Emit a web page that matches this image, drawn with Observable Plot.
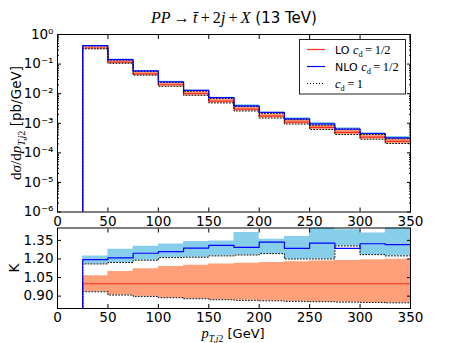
<!DOCTYPE html>
<html><head><meta charset="utf-8">
<script src="https://cdn.jsdelivr.net/npm/d3@7"></script>
<script src="https://cdn.jsdelivr.net/npm/@observablehq/plot@0.6"></script>
<style>
body{margin:0;background:#fff;}
#chart{position:relative;width:457px;height:343px;overflow:hidden;font-family:"DejaVu Sans";background:#fff;}
#chart svg{position:absolute;left:0;top:0;}
</style></head><body><div id="chart"></div>
<script>
// ---- data ----
const binEdges = [25, 50, 75, 100, 125, 150, 175, 200, 225, 250, 275, 300, 325, 350];
const loXsec = [0.35, 0.117, 0.047, 0.020, 0.010, 0.0056, 0.0030, 0.00174, 0.0011, 0.00072, 0.00049, 0.00034, 0.000244];
const kNLO = [1.195, 1.208, 1.246, 1.259, 1.288, 1.31, 1.294, 1.336, 1.286, 1.328, 1.285, 1.323, 1.315];
const nloBandHigh = [1.224, 1.278, 1.302, 1.32, 1.342, 1.345, 1.414, 1.36, 1.382, 1.47, 1.436, 1.41, 1.47];
const nloBandLow = [1.16, 1.171, 1.19, 1.211, 1.214, 1.225, 1.232, 1.243, 1.2, 1.2, 1.305, 1.235, 1.225];
const loBandHigh = [1.064, 1.099, 1.12, 1.139, 1.15, 1.16, 1.165, 1.172, 1.178, 1.183, 1.188, 1.193, 1.198];
const loBandLow = [0.935, 0.909, 0.898, 0.887, 0.879, 0.871, 0.866, 0.862, 0.858, 0.855, 0.852, 0.849, 0.846];
const xTicks = [0, 50, 100, 150, 200, 250, 300, 350];
const logTicks = [1e-6, 1e-5, 1e-4, 1e-3, 1e-2, 1e-1, 1];
const kTicks = [0.90, 1.05, 1.20, 1.35];

const W = 457, H = 343;
const C = {loBand: "#ffa07a", nloBand: "#87ceeb", lo: "#ff2a1a", nlo: "#0000ff"};

// step rows: one point per bin left edge, plus the closing edge
function stepRows(vals, floor) {
  const rows = vals.map((v, i) => ({x: binEdges[i], y: v}));
  rows.push({x: binEdges[binEdges.length - 1], y: vals[vals.length - 1]});
  if (floor !== undefined) rows.unshift({x: binEdges[0], y: floor});
  return rows;
}
function bandRows(lowVals, highVals) {
  const rows = lowVals.map((v, i) => ({x: binEdges[i], y1: v, y2: highVals[i]}));
  rows.push({x: binEdges[binEdges.length - 1], y1: lowVals[lowVals.length - 1], y2: highVals[highVals.length - 1]});
  return rows;
}
const times = (a, b) => a.map((v, i) => v * b[i]);

const supMap = {"-": "\u207b", "0": "\u2070", "1": "\u00b9", "2": "\u00b2", "3": "\u00b3", "4": "\u2074", "5": "\u2075", "6": "\u2076", "7": "\u2077", "8": "\u2078", "9": "\u2079"};
const supFmt = d => "10" + String(Math.round(Math.log10(d))).split("").map(c => supMap[c]).join("");
const none = () => "";
const minorTicks = logTicks.slice(0, -1).flatMap(d => [2, 3, 4, 5, 6, 7, 8, 9].map(m => m * d));

function frameAxes(yTicks, yFmt, yMinor) {
  const m = [
    Plot.frame({stroke: "black", strokeWidth: 1}),
    Plot.axisX(xTicks, {anchor: "bottom", label: null, tickSize: 0, tickPadding: 4, tickFormat: d => String(d), fontSize: 13.5, fill: "black"}),
    Plot.axisX(xTicks, {anchor: "bottom", label: null, tickSize: 4, dy: -4, tickFormat: none}),
    Plot.axisX(xTicks, {anchor: "top", label: null, tickSize: 4, dy: 4, tickFormat: none}),
    Plot.axisY(yTicks, {anchor: "left", label: null, tickSize: 0, tickPadding: 4, tickFormat: yFmt, fontSize: 13.5, fill: "black"}),
    Plot.axisY(yTicks, {anchor: "left", label: null, tickSize: 4, dx: 4, tickFormat: none}),
    Plot.axisY(yTicks, {anchor: "right", label: null, tickSize: 4, dx: -4, tickFormat: none})
  ];
  if (yMinor) {
    m.push(Plot.axisY(yMinor, {anchor: "left", label: null, tickSize: 2, dx: 2, tickFormat: none}));
    m.push(Plot.axisY(yMinor, {anchor: "right", label: null, tickSize: 2, dx: -2, tickFormat: none}));
  }
  return m;
}

const styleCommon = {background: "transparent", fontFamily: "DejaVu Sans", fontSize: "13.5px", color: "black", overflow: "visible"};

// ---- top panel ----
const loBandTop = bandRows(times(loXsec, loBandLow), times(loXsec, loBandHigh));
const nloBandTop = bandRows(times(loXsec, nloBandLow), times(loXsec, nloBandHigh));
const topPlot = Plot.plot({
  width: W, height: H,
  marginLeft: 57, marginRight: 47, marginTop: 34, marginBottom: H - 211.5,
  style: styleCommon,
  x: {domain: [0, 350], label: null},
  y: {type: "log", domain: [1e-6, 1], label: null},
  marks: [
    Plot.areaY(loBandTop, {x: "x", y1: "y1", y2: "y2", curve: "step-after", fill: C.loBand, clip: true}),
    Plot.areaY(nloBandTop, {x: "x", y1: "y1", y2: "y2", curve: "step-after", fill: C.nloBand, clip: true}),
    Plot.line(stepRows(loXsec, 1e-8), {x: "x", y: "y", curve: "step-after", stroke: C.lo, strokeWidth: 1.2, clip: true}),
    Plot.line(stepRows(times(loXsec, loBandLow), 1e-8), {x: "x", y: "y", curve: "step-after", stroke: "black", strokeWidth: 1, strokeDasharray: "1,2", clip: true}),
    Plot.line(stepRows(times(loXsec, nloBandLow), 1e-8), {x: "x", y: "y", curve: "step-after", stroke: "black", strokeWidth: 1, strokeDasharray: "1,2", clip: true}),
    Plot.line(stepRows(times(loXsec, kNLO), 1e-8), {x: "x", y: "y", curve: "step-after", stroke: C.nlo, strokeWidth: 1.2, clip: true}),
    ...frameAxes(logTicks, supFmt, minorTicks)
  ]
});

// ---- ratio panel ----
const loRatio = loXsec.map(() => 1);
const botPlot = Plot.plot({
  width: W, height: H,
  marginLeft: 57, marginRight: 47, marginTop: 227.5, marginBottom: H - 308,
  style: styleCommon,
  x: {domain: [0, 350], label: null},
  y: {domain: [0.8, 1.45], label: null},
  marks: [
    Plot.areaY(bandRows(loBandLow, loBandHigh), {x: "x", y1: "y1", y2: "y2", curve: "step-after", fill: C.loBand, clip: true}),
    Plot.areaY(bandRows(nloBandLow, nloBandHigh), {x: "x", y1: "y1", y2: "y2", curve: "step-after", fill: C.nloBand, clip: true}),
    Plot.line(stepRows(loRatio, 0.5), {x: "x", y: "y", curve: "step-after", stroke: C.lo, strokeWidth: 1.2, clip: true}),
    Plot.line(stepRows(loBandLow, 0.5), {x: "x", y: "y", curve: "step-after", stroke: "black", strokeWidth: 1, strokeDasharray: "1,2", clip: true}),
    Plot.line(stepRows(nloBandLow, 0.5), {x: "x", y: "y", curve: "step-after", stroke: "black", strokeWidth: 1, strokeDasharray: "1,2", clip: true}),
    Plot.line(stepRows(kNLO, 0.5), {x: "x", y: "y", curve: "step-after", stroke: C.nlo, strokeWidth: 1.2, clip: true}),
    ...frameAxes(kTicks, d => d.toFixed(2))
  ]
});

const chart = document.getElementById("chart");
chart.appendChild(topPlot);
chart.appendChild(botPlot);

// ---- text overlay: title, axis labels, legend ----
const svg = d3.select(chart).append("svg").attr("width", W).attr("height", H)
  .style("overflow", "visible").attr("font-family", "DejaVu Sans");
const SERIF = "Liberation Serif";
function mtext(g, parts, size) {
  const t = g.append("text").attr("font-size", size).attr("fill", "black");
  let sub = false;
  for (const p of parts) {
    const s = t.append("tspan").text(p.t);
    if (p.serif) s.attr("font-family", SERIF);
    if (p.i) s.attr("font-style", "italic");
    if (p.sub && !sub) { s.attr("dy", size * 0.3); sub = true; }
    else if (!p.sub && sub) { s.attr("dy", -size * 0.3); sub = false; }
    if (p.sub) s.attr("font-size", size * 0.75);
    if (p.size) s.attr("font-size", p.size);
  }
  return t;
}
const thin = "\u2009";
// title
mtext(svg.append("g").attr("transform", "translate(234,23)"), [
  {t: "PP", serif: 1, i: 1, size: 16},
  {t: thin + "\u2192" + thin, serif: 1, size: 16},
  {t: "t\u0304", serif: 1, i: 1, size: 16},
  {t: thin + "+" + thin + "2", serif: 1, size: 16},
  {t: "j", serif: 1, i: 1, size: 16},
  {t: thin + "+" + thin, serif: 1, size: 16},
  {t: "X", serif: 1, i: 1, size: 16},
  {t: " (13 TeV)"}
], 15).attr("text-anchor", "middle");

// top y label
mtext(svg.append("g").attr("transform", "translate(21,123) rotate(-90)"), [
  {t: "d", serif: 1, size: 15},
  {t: "\u03c3", serif: 1, i: 1, size: 15},
  {t: "/d", serif: 1, size: 15},
  {t: "p", serif: 1, i: 1, size: 15},
  {t: "T,j", serif: 1, i: 1, sub: 1},
  {t: "2", serif: 1, sub: 1},
  {t: " [pb/GeV]"}
], 13.5).attr("text-anchor", "middle");

// K label
svg.append("text").attr("transform", "translate(19,268) rotate(-90)").attr("text-anchor", "middle")
  .attr("font-size", 13.5).text("K");

// x label
mtext(svg.append("g").attr("transform", "translate(233,338)"), [
  {t: "p", serif: 1, i: 1, size: 14.5},
  {t: "T,j", serif: 1, i: 1, sub: 1},
  {t: "2", serif: 1, sub: 1},
  {t: " [GeV]"}
], 13).attr("text-anchor", "middle");

// legend
const lg = svg.append("g");
lg.append("rect").attr("x", 299.5).attr("y", 39.5).attr("width", 106).attr("height", 54.5)
  .attr("fill", "white").attr("stroke", "#222").attr("stroke-width", 1);
const rows = [
  {y: 49.5, stroke: C.lo, dash: null, w: 1.2, parts: [{t: "LO "}, {t: "c", serif: 1, i: 1, size: 12.5}, {t: "d", serif: 1, sub: 1}, {t: thin + "=" + thin + "1/2", serif: 1, size: 12.5}]},
  {y: 66.5, stroke: C.nlo, dash: null, w: 1.2, parts: [{t: "NLO "}, {t: "c", serif: 1, i: 1, size: 12.5}, {t: "d", serif: 1, sub: 1}, {t: thin + "=" + thin + "1/2", serif: 1, size: 12.5}]},
  {y: 83.5, stroke: "black", dash: "1,2", w: 1, parts: [{t: "c", serif: 1, i: 1, size: 12.5}, {t: "d", serif: 1, sub: 1}, {t: thin + "=" + thin + "1", serif: 1, size: 12.5}]}
];
for (const r of rows) {
  lg.append("line").attr("x1", 307).attr("x2", 325).attr("y1", r.y).attr("y2", r.y)
    .attr("stroke", r.stroke).attr("stroke-width", r.w).attr("stroke-dasharray", r.dash);
  mtext(lg.append("g").attr("transform", `translate(335,${r.y + 4})`), r.parts, 11);
}
</script></body></html>
